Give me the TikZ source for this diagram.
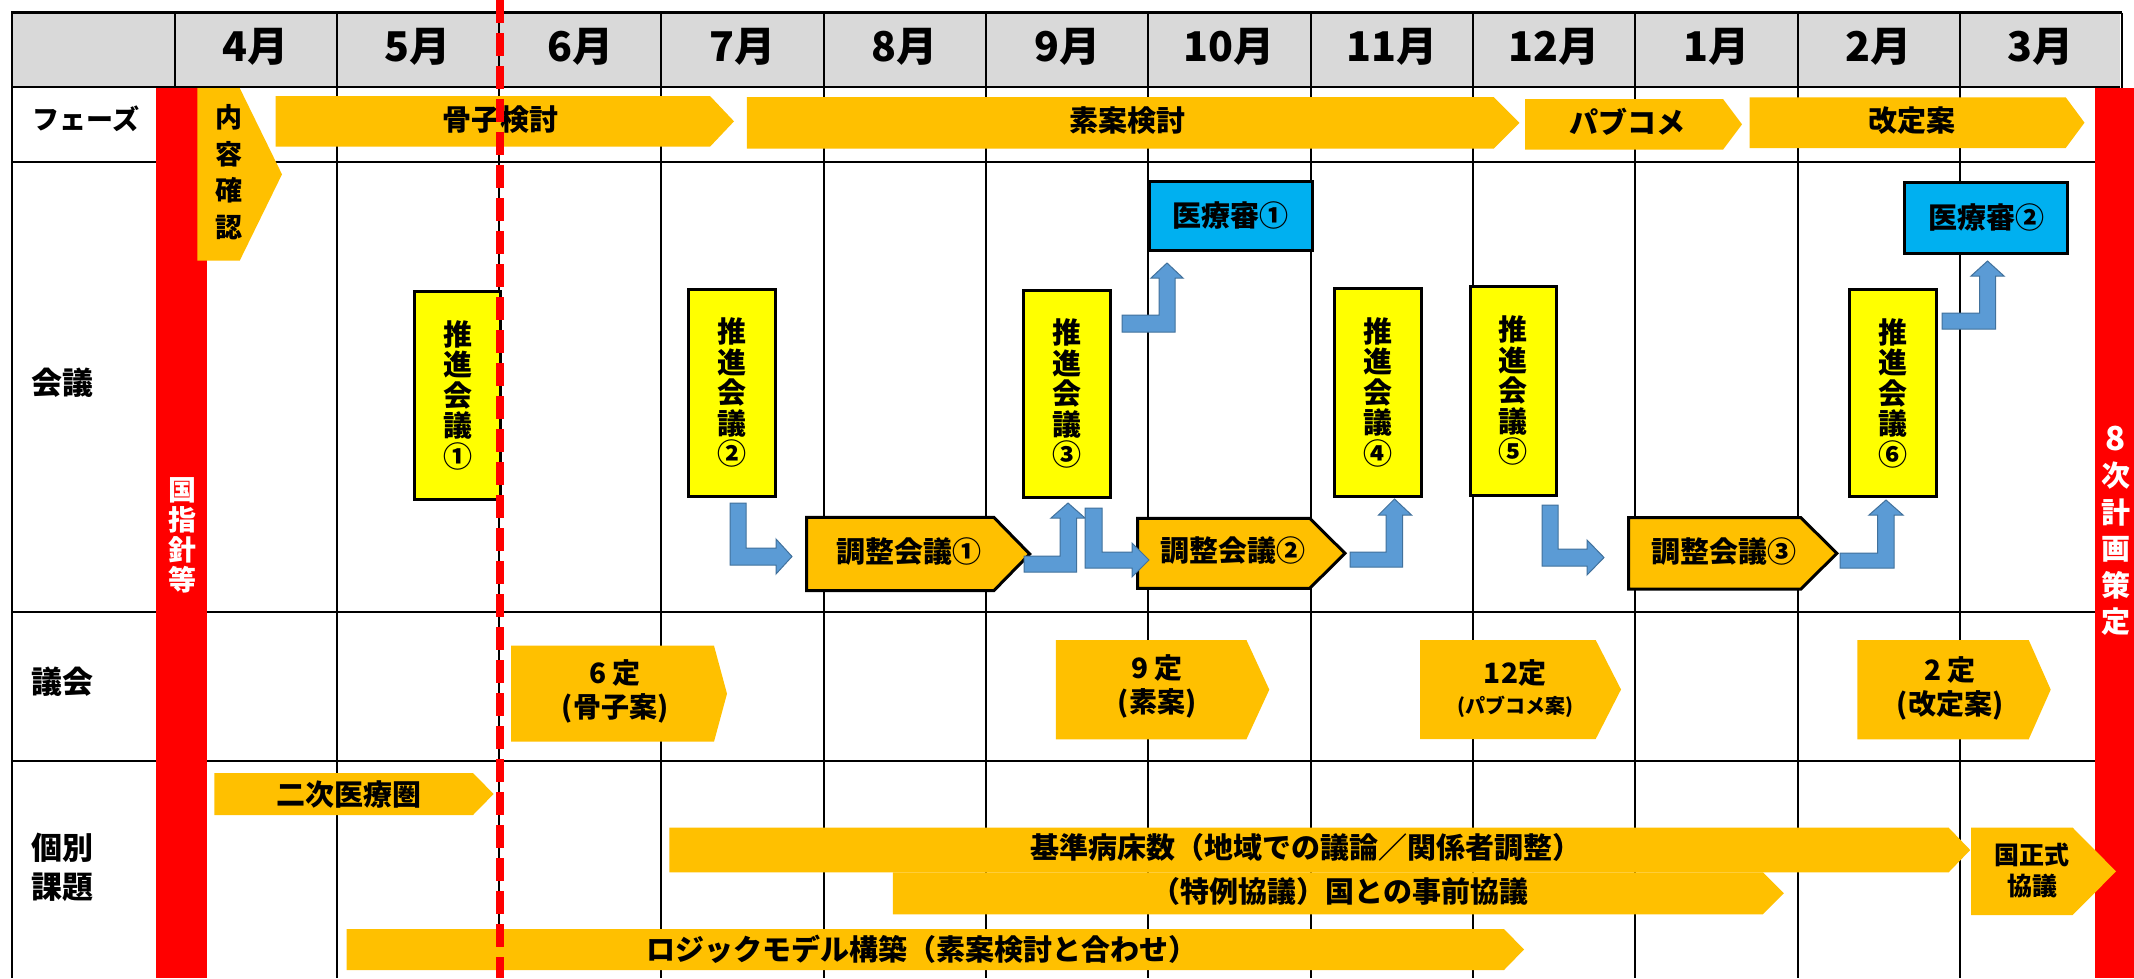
\documentclass[tikz,border=0pt]{standalone}
\usepackage{fontspec}
\setmainfont{Noto Sans CJK JP}[BoldFont={Noto Sans CJK JP Black}]
\definecolor{orangeC}{HTML}{FFC000}
\definecolor{yellowC}{HTML}{FFFF00}
\definecolor{cyanC}{HTML}{00B0F0}
\definecolor{redC}{HTML}{FF0000}
\definecolor{blueC}{HTML}{5B9BD5}
\definecolor{blueD}{HTML}{41719C}
\definecolor{grayC}{HTML}{D9D9D9}
\newcommand\hplate[6]{\path[#6] (#1,#2) -- (#3,#2) -- (#4,{(#2+#5)/2}) -- (#3,#5) -- (#1,#5) -- cycle;}
\tikzset{
  gridline/.style={line width=2pt, black},
  obar/.style={fill=orangeC},
  obarb/.style={fill=orangeC, draw=black, line width=3pt, line join=miter},
  ybox/.style={fill=yellowC, draw=black, line width=3pt},
  cbox/.style={fill=cyanC, draw=black, line width=3pt},
  bluearrow/.style={fill=blueC, draw=blueD, line width=1pt},
  txt/.style={inner sep=0pt, align=center, font=\bfseries\fontsize{29}{31}\selectfont},
  monthlbl/.style={inner sep=0pt, font=\bfseries\fontsize{41}{43}\selectfont},
  rowlbl/.style={inner sep=0pt, align=center, font=\bfseries\fontsize{31}{39}\selectfont},
  vtxt/.style={inner sep=0pt, align=center, font=\bfseries\fontsize{29}{30.5}\selectfont},
  wtxt/.style={inner sep=0pt, align=center, text=white, font=\bfseries\fontsize{28}{30}\selectfont},
  gitxt/.style={inner sep=0pt, align=center, font=\bfseries\fontsize{28}{34}\selectfont},
}
\begin{document}
\begin{tikzpicture}[x=1pt,y=-1pt]
\useasboundingbox (0,0) rectangle (2134,978);
\fill[white] (0,0) rectangle (2134,978);
% header
\fill[grayC] (12.4,12.7) rectangle (2120,87.3);
% grid
\foreach \i in {0,...,12} \draw[gridline] ({174.5+162.3*\i},12.7) -- ({174.5+162.3*\i},978);
\draw[gridline] (12.4,12.7) -- (12.4,978);
\draw[line width=3pt] (11,12.7) -- (2121.5,12.7);
\foreach \yy in {87.3,161.7,611.7,761} \draw[gridline] (12.4,\yy) -- (2120,\yy);
% month labels
\foreach \m [count=\i from 0] in {4月,5月,6月,7月,8月,9月,10月,11月,12月,1月,2月,3月}
  \node[monthlbl] (m\i) at ({174.5+162.3*(\i+0.5)},47) {\m};
% row labels
\node[rowlbl, font=\bfseries\fontsize{27}{30}\selectfont] (lphase) at (86,119) {フェーズ};
\node[rowlbl] (lmeet) at (62,383) {会議};
\node[rowlbl] (lcouncil) at (62,682) {議会};
\node[rowlbl] (lissue) at (62,867) {個別\\課題};
% red strips
\fill[redC] (156,88) rectangle (206.6,978);
\fill[redC] (2095,88) rectangle (2134,978);
\node[wtxt] (kuni) at (182,535) {国\\指\\針\\等};
\node[wtxt, font=\bfseries\fontsize{29}{36.5}\selectfont] (hachi) at (2116,531) {{\fontsize{33}{36.5}\selectfont 8}\\次\\計\\画\\策\\定};
% phase row
\hplate{197.4}{88}{239.7}{282}{260.7}{obar}
\node[vtxt, font=\bfseries\fontsize{27}{36.7}\selectfont] (naiyo) at (229,172) {内\\容\\確\\認};
\hplate{275.5}{96}{710}{734}{146.7}{obar}
\node[txt] (kosshi) at (500,120) {骨子検討};
\hplate{746.8}{97}{1493.6}{1519.4}{148.7}{obar}
\node[txt] (soan) at (1127,121) {素案検討};
\hplate{1525}{99}{1723}{1742}{149.7}{obar}
\node[txt] (pabu) at (1627,122) {パブコメ};
\hplate{1749.7}{97.3}{2065.7}{2084.5}{148}{obar}
\node[txt] (kaitei) at (1912,121) {改定案};
% meeting row: yellow boxes
\foreach \n/\xa/\xb/\ya/\yb/\c in {1/414.6/500.5/291.7/499/①, 2/688.7/775.8/289/496/②, 3/1023.7/1110/290/497.3/③, 4/1334.5/1421/288.3/496/④, 5/1470/1556/286/495/⑤, 6/1849.4/1936/289.3/496.7/⑥}{
  \draw[ybox] (\xa,\ya) rectangle (\xb,\yb);
  \node[vtxt] (suishin\n) at ({(\xa+\xb)/2},{(\ya+\yb)/2}) {推\\進\\会\\議\\\c};
}
% cyan boxes
\draw[cbox] (1149,181) rectangle (1312,250.7);
\node[txt] (iryo1) at (1230.5,216) {医療審①};
\draw[cbox] (1904.7,182) rectangle (2067,253);
\node[txt] (iryo2) at (1986,217.5) {医療審②};
% coordination meetings
\hplate{806.5}{517.3}{993.8}{1029.7}{590.7}{obarb}
\node[txt] (chosei1) at (909,552) {調整会議①};
\hplate{1137.5}{518.3}{1309.7}{1345}{588.3}{obarb}
\node[txt] (chosei2) at (1232.6,551) {調整会議②};
\hplate{1628.5}{517.7}{1801}{1836.8}{589}{obarb}
\node[txt] (chosei3) at (1723.7,552) {調整会議③};
% blue bent arrows
\filldraw[bluearrow] (730,503) -- (746,503) -- (746,548) -- (776,548) -- (776,539) -- (792,556.5) -- (776,574) -- (776,565) -- (730,565) -- cycle;
\filldraw[bluearrow] (1024,556) -- (1060,556) -- (1060,518) -- (1051,518) -- (1068,503) -- (1085,518) -- (1076.5,518) -- (1076.5,572) -- (1024,572) -- cycle;
\filldraw[bluearrow] (1085,508) -- (1102,508) -- (1102,552) -- (1132,552) -- (1132,543) -- (1149,560) -- (1132,577) -- (1132,568) -- (1085,568) -- cycle;
\filldraw[bluearrow] (1350,552) -- (1386,552) -- (1386,515) -- (1378.5,515) -- (1394.5,499) -- (1411.5,515) -- (1402.5,515) -- (1402.5,567) -- (1350,567) -- cycle;
\filldraw[bluearrow] (1122,315) -- (1159,315) -- (1159,278) -- (1151,278) -- (1167,263) -- (1183,278) -- (1175,278) -- (1175,332) -- (1122,332) -- cycle;
\filldraw[bluearrow] (1542,505) -- (1558,505) -- (1558,549) -- (1587,549) -- (1587,540) -- (1604,557.5) -- (1587,575) -- (1587,566) -- (1542,566) -- cycle;
\filldraw[bluearrow] (1840,553) -- (1877.5,553) -- (1877.5,515) -- (1869,515) -- (1886,500) -- (1903,515) -- (1894,515) -- (1894,568) -- (1840,568) -- cycle;
\filldraw[bluearrow] (1942,313) -- (1979.5,313) -- (1979.5,276) -- (1971,276) -- (1987.5,261) -- (2004,276) -- (1995.5,276) -- (1995.5,329) -- (1942,329) -- cycle;
% council row
\hplate{511}{645.7}{714}{727}{741.7}{obar}
\node[gitxt] (t6) at (615,691) {6 定\\(骨子案)};
\hplate{1055.8}{640}{1246.4}{1269.3}{739.3}{obar}
\node[gitxt] (t9) at (1157,686) {9 定\\(素案)};
\hplate{1420}{640}{1595.7}{1621}{739}{obar}
\node[gitxt] (t12) at (1515,689) {12定\\[-4pt]{\fontsize{20}{22}\selectfont (パブコメ案)}};
\hplate{1857.4}{640}{2028.7}{2050.7}{739.3}{obar}
\node[gitxt] (t2) at (1950,688) {2 定\\(改定案)};
% individual issues
\hplate{214.4}{773}{473}{493.6}{815}{obar}
\node[txt] (niji) at (349,794) {二次医療圏};
\hplate{669.4}{827.7}{1948.7}{1970.2}{872.3}{obar}
\hplate{892.8}{872.3}{1762.8}{1783.9}{914.3}{obar}
\node[txt] (kijun) at (1306,847) {基準病床数（地域での議論／関係者調整）};
\node[txt] (tokurei) at (1340,891) {（特例協議）国との事前協議};
\hplate{346.6}{929}{1504}{1524}{970}{obar}
\node[txt] (logic) at (922,949) {ロジックモデル構築（素案検討と合わせ）};
\hplate{1971}{827.7}{2072.7}{2116}{915}{obar}
\node[txt, font=\bfseries\fontsize{25}{31}\selectfont] (seishiki) at (2032,870) {国正式\\協議};
% red dashed line
\draw[redC, line width=8pt, dash pattern=on 23pt off 10pt] (499.5,0) -- (499.5,978);
\end{tikzpicture}
\end{document}
